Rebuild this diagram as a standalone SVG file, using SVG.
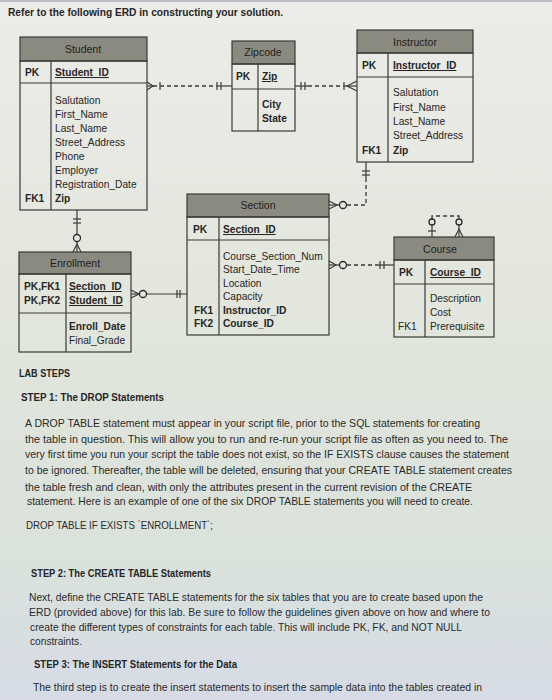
<svg xmlns="http://www.w3.org/2000/svg" width="552" height="700" viewBox="0 0 552 700">
<defs>
<linearGradient id="bg" x1="0" y1="0" x2="0" y2="1">
<stop offset="0" stop-color="#ecece8"/>
<stop offset="0.45" stop-color="#e2e6dc"/>
<stop offset="0.8" stop-color="#dae2dc"/>
<stop offset="1" stop-color="#d6dbe6"/>
</linearGradient>
<style>
text{font-family:"Liberation Sans",Arial,sans-serif;fill:#262626;}
.t{font-size:10.2px;}
.b{font-weight:bold;}
.u{text-decoration:underline;font-weight:bold;}
.h{font-size:10.5px;text-anchor:middle;fill:#1e1e1a;}
.box{fill:none;stroke:#3a3a38;stroke-width:1.2;}
.hdr{fill:#8a8a81;stroke:#3a3a38;stroke-width:1.2;}
.ln{stroke:#3a3a38;stroke-width:1.2;fill:none;}
.ds{stroke:#3a3a38;stroke-width:1.3;fill:none;stroke-dasharray:4 3;}
.cir{fill:#e4e7df;stroke:#2a2a2a;stroke-width:1.3;}
.p{font-size:10.6px;fill:#2a2a2a;}
.s{font-size:10.4px;font-weight:bold;}
</style>
</defs>
<rect x="0" y="0" width="552" height="700" fill="url(#bg)"/>
<rect x="0" y="0" width="552" height="2" fill="#b8bcc0"/>
<text x="8" y="16" class="b" font-size="10.8" textLength="275" lengthAdjust="spacingAndGlyphs">Refer to the following ERD in constructing your solution.</text>

<g id="connectors">
<!-- Student - Zipcode -->
<line class="ds" x1="153" y1="86" x2="216" y2="86"/>
<line class="ln" x1="216" y1="86" x2="232" y2="86"/>
<line class="ln" x1="147" y1="86" x2="153" y2="86"/>
<path class="ln" d="M147 82 L153 86 L147 90"/>
<line class="ln" x1="160" y1="82" x2="160" y2="90"/>
<line class="ln" x1="217" y1="82" x2="217" y2="90"/>
<line class="ln" x1="221" y1="82" x2="221" y2="90"/>
<!-- Zipcode - Instructor -->
<line class="ln" x1="295" y1="86" x2="308" y2="86"/>
<line class="ds" x1="308" y1="86" x2="343" y2="86"/>
<line class="ln" x1="343" y1="86" x2="357" y2="86"/>
<line class="ln" x1="301" y1="82" x2="301" y2="90"/>
<line class="ln" x1="305" y1="82" x2="305" y2="90"/>
<line class="ln" x1="344" y1="82" x2="344" y2="90"/>
<path class="ln" d="M357 81 L347 86 L357 91"/>
<!-- Instructor - Section -->
<line class="ln" x1="366" y1="162" x2="366" y2="178"/>
<line class="ln" x1="362" y1="171" x2="370" y2="171"/>
<line class="ln" x1="362" y1="175" x2="370" y2="175"/>
<path class="ds" d="M366 178 L366 205 L347 205"/>
<line class="ln" x1="329" y1="205" x2="340" y2="205"/>
<path class="ln" d="M329 201 L337 205 L329 209"/>
<circle class="cir" cx="343" cy="205" r="3.5"/>
<!-- Section - Course -->
<line class="ln" x1="329" y1="265" x2="340" y2="265"/>
<path class="ln" d="M329 261 L336 265 L329 269"/>
<circle class="cir" cx="343" cy="265" r="3.5"/>
<line class="ds" x1="347" y1="265" x2="378" y2="265"/>
<line class="ln" x1="378" y1="265" x2="394" y2="265"/>
<line class="ln" x1="380" y1="261" x2="380" y2="269"/>
<line class="ln" x1="384" y1="261" x2="384" y2="269"/>
<!-- Course self relationship -->
<path class="ds" d="M432 219 L432 216 L459 216 L459 219"/>
<circle class="cir" cx="432" cy="222" r="3"/>
<circle class="cir" cx="459" cy="222" r="3"/>
<line class="ln" x1="432" y1="225" x2="432" y2="237"/>
<line class="ln" x1="428" y1="231" x2="436" y2="231"/>
<line class="ln" x1="459" y1="225" x2="459" y2="237"/>
<path class="ln" d="M455 237 L459 229 L463 237"/>
<!-- Student - Enrollment -->
<line class="ln" x1="77" y1="210" x2="77" y2="234"/>
<line class="ln" x1="73" y1="219" x2="81" y2="219"/>
<line class="ln" x1="73" y1="223" x2="81" y2="223"/>
<circle class="cir" cx="77" cy="238" r="3.5"/>
<line class="ln" x1="77" y1="242" x2="77" y2="252"/>
<path class="ln" d="M73 252 L77 244 L81 252"/>
<!-- Enrollment - Section -->
<line class="ln" x1="131" y1="294" x2="139" y2="294"/>
<path class="ln" d="M131 290 L139 294 L131 298"/>
<circle class="cir" cx="143" cy="294" r="3.5"/>
<line class="ln" x1="147" y1="294" x2="187" y2="294"/>
<line class="ln" x1="177" y1="290" x2="177" y2="298"/>
<line class="ln" x1="180" y1="290" x2="180" y2="298"/>
</g>

<g id="student">
<rect class="hdr" x="20" y="37" width="127" height="24"/>
<rect class="box" x="20" y="61" width="127" height="149"/>
<line class="ln" x1="20" y1="83" x2="147" y2="83"/>
<line class="ln" x1="51" y1="61" x2="51" y2="210"/>
<text class="h" x="83" y="53">Student</text>
<text class="t b" x="25" y="76">PK</text>
<text class="t u" x="55" y="76">Student_ID</text>
<text class="t" x="55" y="104">Salutation</text>
<text class="t" x="55" y="118">First_Name</text>
<text class="t" x="55" y="132">Last_Name</text>
<text class="t" x="55" y="146">Street_Address</text>
<text class="t" x="55" y="160">Phone</text>
<text class="t" x="55" y="174">Employer</text>
<text class="t" x="55" y="188">Registration_Date</text>
<text class="t b" x="25" y="202">FK1</text>
<text class="t b" x="55" y="202">Zip</text>
</g>

<g id="zipcode">
<rect class="hdr" x="232" y="41" width="63" height="23"/>
<rect class="box" x="232" y="64" width="63" height="67"/>
<line class="ln" x1="232" y1="89" x2="295" y2="89"/>
<line class="ln" x1="258" y1="64" x2="258" y2="131"/>
<text class="h" x="263" y="56">Zipcode</text>
<text class="t b" x="236" y="80">PK</text>
<text class="t u" x="262" y="80">Zip</text>
<text class="t b" x="262" y="108">City</text>
<text class="t b" x="262" y="122">State</text>
</g>

<g id="instructor">
<rect class="hdr" x="357" y="30" width="116" height="23"/>
<rect class="box" x="357" y="53" width="116" height="109"/>
<line class="ln" x1="357" y1="77" x2="473" y2="77"/>
<line class="ln" x1="388" y1="53" x2="388" y2="162"/>
<text class="h" x="415" y="46">Instructor</text>
<text class="t b" x="362" y="69">PK</text>
<text class="t u" x="393" y="69">Instructor_ID</text>
<text class="t" x="393" y="96">Salutation</text>
<text class="t" x="393" y="111">First_Name</text>
<text class="t" x="393" y="125">Last_Name</text>
<text class="t" x="393" y="139">Street_Address</text>
<text class="t b" x="362" y="154">FK1</text>
<text class="t b" x="393" y="154">Zip</text>
</g>

<g id="section">
<rect class="hdr" x="187" y="194" width="142" height="23"/>
<rect class="box" x="187" y="217" width="142" height="118"/>
<line class="ln" x1="187" y1="240" x2="329" y2="240"/>
<line class="ln" x1="219" y1="217" x2="219" y2="335"/>
<text class="h" x="258" y="209">Section</text>
<text class="t b" x="193" y="233">PK</text>
<text class="t u" x="223" y="233">Section_ID</text>
<text class="t" x="223" y="260">Course_Section_Num</text>
<text class="t" x="223" y="273">Start_Date_Time</text>
<text class="t" x="223" y="287">Location</text>
<text class="t" x="223" y="300">Capacity</text>
<text class="t b" x="194" y="314">FK1</text>
<text class="t b" x="223" y="314">Instructor_ID</text>
<text class="t b" x="194" y="327">FK2</text>
<text class="t b" x="223" y="327">Course_ID</text>
</g>

<g id="course">
<rect class="hdr" x="394" y="237" width="100" height="23"/>
<rect class="box" x="394" y="260" width="100" height="77"/>
<line class="ln" x1="394" y1="284" x2="494" y2="284"/>
<line class="ln" x1="425" y1="260" x2="425" y2="337"/>
<text class="h" x="440" y="253">Course</text>
<text class="t b" x="399" y="276">PK</text>
<text class="t u" x="430" y="276">Course_ID</text>
<text class="t" x="430" y="302">Description</text>
<text class="t" x="430" y="316">Cost</text>
<text class="t" x="398" y="330">FK1</text>
<text class="t" x="430" y="330">Prerequisite</text>
</g>

<g id="enrollment">
<rect class="hdr" x="19" y="252" width="112" height="22"/>
<rect class="box" x="19" y="274" width="112" height="78"/>
<line class="ln" x1="19" y1="313" x2="131" y2="313"/>
<line class="ln" x1="66" y1="274" x2="66" y2="352"/>
<text class="h" x="75" y="267">Enrollment</text>
<text class="t b" x="24" y="290">PK,FK1</text>
<text class="t b" x="24" y="304">PK,FK2</text>
<text class="t u" x="69" y="290">Section_ID</text>
<text class="t u" x="69" y="304">Student_ID</text>
<text class="t b" x="69" y="330">Enroll_Date</text>
<text class="t" x="69" y="344">Final_Grade</text>
</g>

<g id="text">
<text class="s" x="19" y="377" textLength="51" lengthAdjust="spacingAndGlyphs">LAB STEPS</text>
<text class="s" x="21" y="401" textLength="143" lengthAdjust="spacingAndGlyphs">STEP 1: The DROP Statements</text>
<text class="p" x="25" y="427" textLength="455" lengthAdjust="spacingAndGlyphs">A DROP TABLE statement must appear in your script file, prior to the SQL statements for creating</text>
<text class="p" x="25" y="443" textLength="483" lengthAdjust="spacingAndGlyphs">the table in question. This will allow you to run and re-run your script file as often as you need to. The</text>
<text class="p" x="25" y="458" textLength="484" lengthAdjust="spacingAndGlyphs">very first time you run your script the table does not exist, so the IF EXISTS clause causes the statement</text>
<text class="p" x="25" y="474" textLength="487" lengthAdjust="spacingAndGlyphs">to be ignored. Thereafter, the table will be deleted, ensuring that your CREATE TABLE statement creates</text>
<text class="p" x="25" y="491" textLength="447" lengthAdjust="spacingAndGlyphs">the table fresh and clean, with only the attributes present in the current revision of the CREATE</text>
<text class="p" x="27" y="505" textLength="446" lengthAdjust="spacingAndGlyphs">statement. Here is an example of one of the six DROP TABLE statements you will need to create.</text>
<text class="p" x="26" y="529" textLength="187" lengthAdjust="spacingAndGlyphs">DROP TABLE IF EXISTS `ENROLLMENT`;</text>
<text class="s" x="31" y="577" textLength="180" lengthAdjust="spacingAndGlyphs">STEP 2: The CREATE TABLE Statements</text>
<text class="p" x="29" y="601" textLength="454" lengthAdjust="spacingAndGlyphs">Next, define the CREATE TABLE statements for the six tables that you are to create based upon the</text>
<text class="p" x="29" y="616" textLength="461" lengthAdjust="spacingAndGlyphs">ERD (provided above) for this lab. Be sure to follow the guidelines given above on how and where to</text>
<text class="p" x="30" y="631" textLength="432" lengthAdjust="spacingAndGlyphs">create the different types of constraints for each table.  This will include PK, FK, and NOT NULL</text>
<text class="p" x="30" y="645" textLength="52" lengthAdjust="spacingAndGlyphs">constraints.</text>
<text class="s" x="34" y="668" textLength="203" lengthAdjust="spacingAndGlyphs">STEP 3: The INSERT Statements for the Data</text>
<text class="p" x="33" y="691" textLength="449" lengthAdjust="spacingAndGlyphs">The third step is to create the insert statements to insert the sample data into the tables created in</text>
</g>
</svg>
